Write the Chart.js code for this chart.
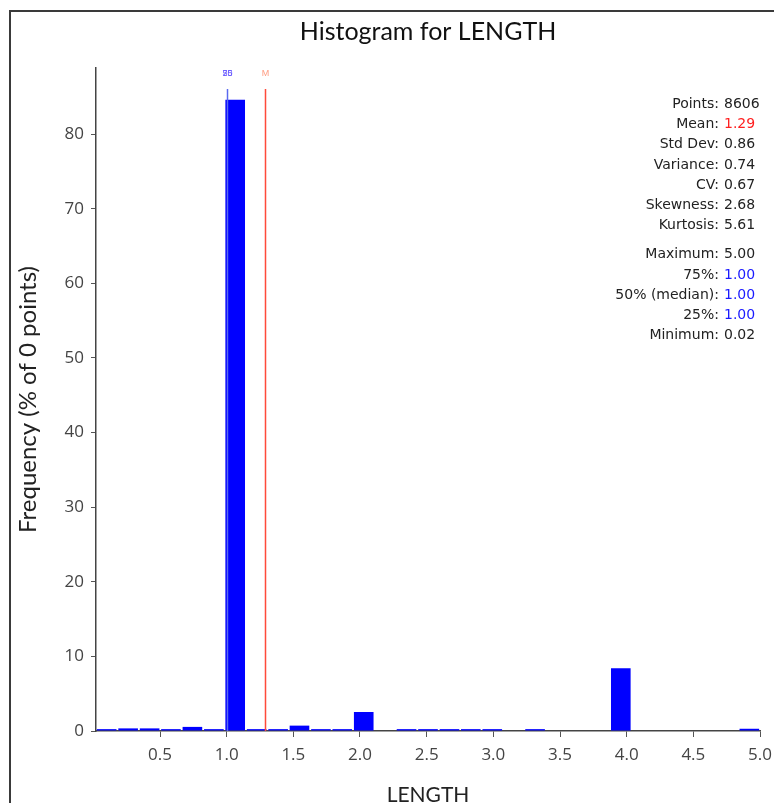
<!DOCTYPE html>
<html>
<head>
<meta charset="utf-8">
<title>Histogram for LENGTH</title>
<script src="https://cdn.jsdelivr.net/npm/chart.js@4.4.1/dist/chart.umd.min.js"></script>
<style>
    html, body { margin: 0; padding: 0; background: #fff; overflow: hidden; width: 774px; height: 803px; }
    #frame { position: absolute; left: 9px; top: 10px; width: 800px; height: 820px; border: 2px solid #3a3a3a; }
    #wrap { position: absolute; left: 0; top: 0; width: 774px; height: 808px; }
    #stats { position: absolute; left: 569px; top: 93px; border-collapse: collapse; font-family: 'DejaVu Sans', sans-serif; font-size: 14px; color: #222; }
    #stats td { padding: 0; height: 20.2px; line-height: 20px; white-space: nowrap; }
    #stats td.lbl { text-align: right; width: 150px; padding-right: 5px; }
    #stats tr.gap td { height: 9px; }
</style>
</head>
<body>
<div id="frame"></div>
<div id="wrap"><canvas id="bar-chart"></canvas></div>
<table id="stats"></table>
<script>
// bins of LENGTH (centres), 31 bins from 0.02 to 5.00
var binCenters = [0.100, 0.261, 0.422, 0.582, 0.743, 0.904, 1.064, 1.225, 1.386, 1.546,
    1.707, 1.867, 2.028, 2.189, 2.349, 2.510, 2.671, 2.831, 2.992, 3.153,
    3.313, 3.474, 3.635, 3.795, 3.956, 4.116, 4.277, 4.438, 4.598, 4.759, 4.920];
// frequency in % of points
var frequency = [0.25, 0.35, 0.35, 0.25, 0.55, 0.25, 84.6, 0.25, 0.25, 0.72,
    0.25, 0.25, 2.55, 0, 0.25, 0.25, 0.25, 0.25, 0.25, 0,
    0.25, 0, 0, 0, 8.4, 0, 0, 0, 0, 0, 0.3];
var xTicks = [0.5, 1.0, 1.5, 2.0, 2.5, 3.0, 3.5, 4.0, 4.5, 5.0];
var yTicks = [0, 10, 20, 30, 40, 50, 60, 70, 80];

// markers drawn above the plot (quartiles + mean)
var markerValues = [1.00, 1.00, 1.00, 1.29];
var markerLabels = ['75', '50', '25', 'M'];
var markerColors = ['#5a6af0', '#5a6af0', '#5a6af0', '#ff4a3a'];
var markerTextColors = ['#6a5cff', '#6a5cff', '#6a5cff', '#ff8a6a'];

var statLabels = ['Points:', 'Mean:', 'Std Dev:', 'Variance:', 'CV:', 'Skewness:', 'Kurtosis:',
    'Maximum:', '75%:', '50% (median):', '25%:', 'Minimum:'];
var statValues = ['8606', '1.29', '0.86', '0.74', '0.67', '2.68', '5.61',
    '5.00', '1.00', '1.00', '1.00', '0.02'];
var statColors = ['#222', '#ff2020', '#222', '#222', '#222', '#222', '#222',
    '#222', '#1a1aff', '#1a1aff', '#1a1aff', '#222'];

// stats table
var html = '';
for (var i = 0; i < statLabels.length; i++) {
    if (i == 7) html += '<tr class="gap"><td></td><td></td></tr>';
    html += '<tr><td class="lbl">' + statLabels[i] + '</td><td style="color:' + statColors[i] + '">' + statValues[i] + '</td></tr>';
}
document.getElementById('stats').innerHTML = html;

var points = binCenters.map(function (c, i) { return {x: c, y: frequency[i]}; });

var markerPlugin = {
    id: 'markers',
    afterDatasetsDraw: function (chart) {
        var ctx = chart.ctx, area = chart.chartArea, xs = chart.scales.x;
        ctx.save();
        for (var i = 0; i < markerValues.length; i++) {
            var px = Math.round(xs.getPixelForValue(markerValues[i])) + 0.5;
            ctx.strokeStyle = markerColors[i];
            ctx.globalAlpha = i == 3 ? 1 : 0.85;
            ctx.lineWidth = i == 3 ? 1.5 : 1.2;
            ctx.beginPath();
            ctx.moveTo(px, area.top + 21);
            ctx.lineTo(px, area.bottom);
            ctx.stroke();
            ctx.globalAlpha = 0.85;
            ctx.fillStyle = markerTextColors[i];
            ctx.font = '9px "Liberation Sans", Arial';
            ctx.textAlign = 'center';
            ctx.textBaseline = 'middle';
            ctx.fillText(markerLabels[i], px, area.top + 6);
        }
        ctx.restore();
    }
};

new Chart(document.getElementById('bar-chart'), {
    type: 'bar',
    data: {
        datasets: [{
            label: 'Frequency',
            data: points,
            backgroundColor: '#0000ff',
            borderWidth: 0,
            categoryPercentage: 1.0,
            barPercentage: 0.92
        }]
    },
    plugins: [markerPlugin],
    options: {
        responsive: true,
        maintainAspectRatio: false,
        devicePixelRatio: 1,
        animation: false,
        layout: { padding: { left: 0, right: 14, top: 0, bottom: 0 } },
        plugins: {
            legend: { display: false },
            tooltip: { enabled: false },
            title: {
                display: true,
                fullSize: false,
                text: 'Histogram for LENGTH',
                color: '#111',
                font: { family: 'Lato', size: 25, weight: 'normal', lineHeight: 1.2 },
                padding: { top: 17, bottom: 21 }
            }
        },
        scales: {
            x: {
                type: 'linear',
                offset: false,
                min: 0.02,
                max: 5.0,
                grid: { offset: false, drawOnChartArea: false, drawTicks: true, tickLength: 6, tickColor: '#555' },
                border: { display: true, color: '#444', width: 1.5 },
                afterBuildTicks: function (scale) {
                    scale.ticks = xTicks.map(function (v) { return {value: v}; });
                },
                afterFit: function (scale) {
                    scale.height = 77;
                    scale.paddingRight = 2;
                },
                ticks: {
                    autoSkip: false,
                    maxRotation: 0,
                    padding: 8,
                    color: '#444',
                    font: { family: 'Open Sans', size: 17 },
                    callback: function (v) { return Number(v).toFixed(1); }
                },
                title: {
                    display: true,
                    text: 'LENGTH',
                    color: '#222',
                    font: { family: 'Lato', size: 21, lineHeight: 1.2 },
                    padding: { top: 0, bottom: 0 }
                }
            },
            y: {
                min: 0,
                max: 88.85,
                grid: { drawOnChartArea: false, drawTicks: true, tickLength: 5, tickColor: '#555' },
                border: { display: true, color: '#444', width: 1.5 },
                afterBuildTicks: function (scale) {
                    scale.ticks = yTicks.map(function (v) { return {value: v}; });
                },
                afterFit: function (scale) { scale.width = 96; },
                ticks: {
                    padding: 7,
                    color: '#444',
                    font: { family: 'Open Sans', size: 17 }
                },
                title: {
                    display: true,
                    text: 'Frequency (% of 0 points)',
                    color: '#222',
                    font: { family: 'Lato', size: 24, lineHeight: 1.2 },
                    padding: { top: 14, bottom: 0 }
                }
            }
        }
    }
});
</script>
</body>
</html>
